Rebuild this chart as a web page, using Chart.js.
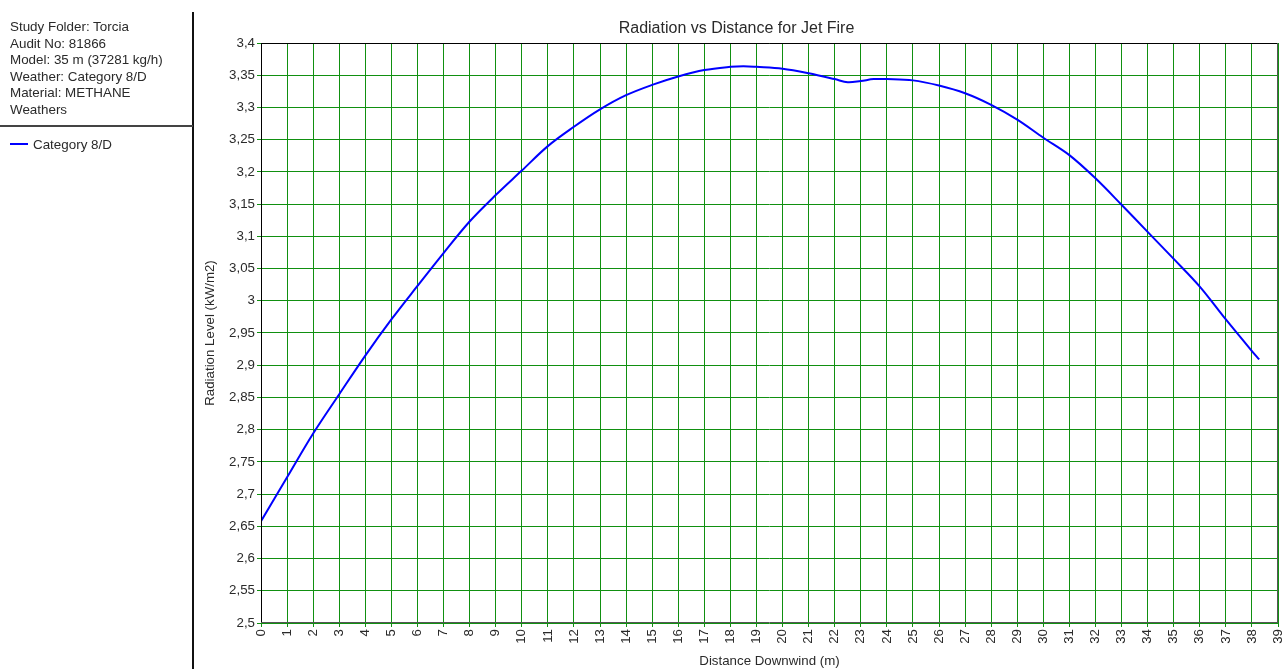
<!DOCTYPE html>
<html>
<head>
<meta charset="utf-8">
<script src="https://cdn.jsdelivr.net/npm/chart.js@4.4.0/dist/chart.umd.min.js"></script>
<style>
  html, body { margin: 0; padding: 0; background: #fff; }
  #wrap { position: relative; width: 1283px; height: 669px; overflow: hidden; font-family: "Liberation Sans", Arial, sans-serif; }
  #c { position: absolute; left: 0; top: 0; }
  #info { position: absolute; left: 10px; top: 19px; font-size: 13.4px; line-height: 16.6px; color: #2a2a2a; white-space: nowrap; }
  #vline { position: absolute; left: 192px; top: 12px; width: 2px; height: 660px; background: #111; }
  #hline { position: absolute; left: 0; top: 125px; width: 193px; height: 2px; background: #444; }
  #leg { position: absolute; left: 10px; top: 137px; font-size: 13.4px; line-height: 16px; color: #2a2a2a; white-space: nowrap; }
  #leg span.sw { display: inline-block; width: 18px; height: 2px; background: #0000ff; vertical-align: middle; margin-right: 5px; position: relative; top: -1px; }
</style>
</head>
<body>
<div id="wrap">
  <canvas id="c" width="1283" height="669"></canvas>
  <div id="info">Study Folder: Torcia<br>Audit No: 81866<br>Model: 35 m (37281 kg/h)<br>Weather: Category 8/D<br>Material: METHANE<br>Weathers</div>
  <div id="vline"></div>
  <div id="hline"></div>
  <div id="leg"><span class="sw"></span>Category 8/D</div>
</div>
<script>
const distance = [0, 1, 2, 3, 4, 5, 6, 7, 8, 9, 10, 11, 12, 13, 14, 15, 16, 17, 18, 18.5, 19, 20, 21, 22, 22.5, 23, 23.5, 24, 25, 26, 27, 28, 29, 30, 31, 32, 33, 34, 35, 36, 37, 38, 38.28];
const radiation = [2.658, 2.726, 2.794, 2.855, 2.915, 2.971, 3.023, 3.074, 3.123, 3.164, 3.202, 3.240, 3.270, 3.297, 3.319, 3.335, 3.348, 3.358, 3.363, 3.364, 3.363, 3.360, 3.353, 3.344, 3.339, 3.341, 3.344, 3.344, 3.342, 3.334, 3.322, 3.304, 3.281, 3.253, 3.226, 3.190, 3.149, 3.107, 3.065, 3.022, 2.971, 2.922, 2.909];
const seriesName = 'Category 8/D';
const chartTitle = 'Radiation vs Distance for Jet Fire';
const xTitle = 'Distance Downwind (m)';
const yTitle = 'Radiation Level (kW/m2)';
const xMin = 0, xMax = 39, xStep = 1;
const yMin = 2.5, yMax = 3.4, yStep = 0.05;

const points = distance.map((d, i) => ({ x: d, y: radiation[i] }));
const FONT = '"Liberation Sans", Arial, sans-serif';
const TXT = '#2a2a2a';
const GRID = '#119011';

const borderPlugin = {
  id: 'frame',
  afterDraw(chart) {
    const { ctx, chartArea: a } = chart;
    ctx.save();
    ctx.lineWidth = 1;
    ctx.strokeStyle = '#000';
    ctx.beginPath(); ctx.moveTo(a.left, a.top + 0.5); ctx.lineTo(a.right, a.top + 0.5); ctx.stroke();
    ctx.beginPath(); ctx.moveTo(a.left + 0.5, a.top); ctx.lineTo(a.left + 0.5, a.bottom); ctx.stroke();
    ctx.strokeStyle = '#555';
    ctx.beginPath(); ctx.moveTo(a.right - 0.5, a.top); ctx.lineTo(a.right - 0.5, a.bottom); ctx.stroke();
    ctx.beginPath(); ctx.moveTo(a.left, a.bottom - 0.5); ctx.lineTo(a.right, a.bottom - 0.5); ctx.stroke();
    ctx.restore();
  }
};

new Chart(document.getElementById('c'), {
  type: 'line',
  data: {
    datasets: [{
      label: seriesName,
      data: points,
      borderColor: '#0000ff',
      borderWidth: 2,
      pointRadius: 0,
      tension: 0.35,
      fill: false
    }]
  },
  options: {
    responsive: false,
    animation: false,
    layout: { padding: { left: 195, right: 5, top: 0, bottom: 0 } },
    plugins: {
      legend: { display: false },
      tooltip: { enabled: false },
      title: {
        display: true,
        text: chartTitle,
        color: TXT,
        font: { family: FONT, size: 16, weight: 'normal' },
        padding: { top: 19, bottom: 4.8 }
      }
    },
    scales: {
      x: {
        type: 'linear',
        min: xMin, max: xMax,
        ticks: {
          stepSize: xStep,
          autoSkip: false,
          maxRotation: 90, minRotation: 90,
          color: TXT,
          padding: 2,
          font: { family: FONT, size: 13.3 }
        },
        grid: { color: GRID, lineWidth: 1, tickLength: 4, drawTicks: true },
        border: { display: false },
        title: { display: true, text: xTitle, color: TXT, font: { family: FONT, size: 13.3 }, padding: { top: 0, bottom: 0 } },
        afterFit(s) { s.height = 46; s.paddingLeft = 0; s.paddingRight = 0; }
      },
      y: {
        type: 'linear',
        min: yMin, max: yMax,
        ticks: {
          stepSize: yStep,
          color: TXT,
          padding: 2,
          font: { family: FONT, size: 13.3 },
          callback: v => String(Number(v.toFixed(2))).replace('.', ',')
        },
        grid: { color: GRID, lineWidth: 1, tickLength: 4, drawTicks: true },
        border: { display: false },
        title: { display: true, text: yTitle, color: TXT, font: { family: FONT, size: 13.3 }, padding: { top: 7, bottom: 0 } },
        afterFit(s) { s.width = 66; s.paddingTop = 0; s.paddingBottom = 0; }
      }
    }
  },
  plugins: [borderPlugin]
});
</script>
</body>
</html>
